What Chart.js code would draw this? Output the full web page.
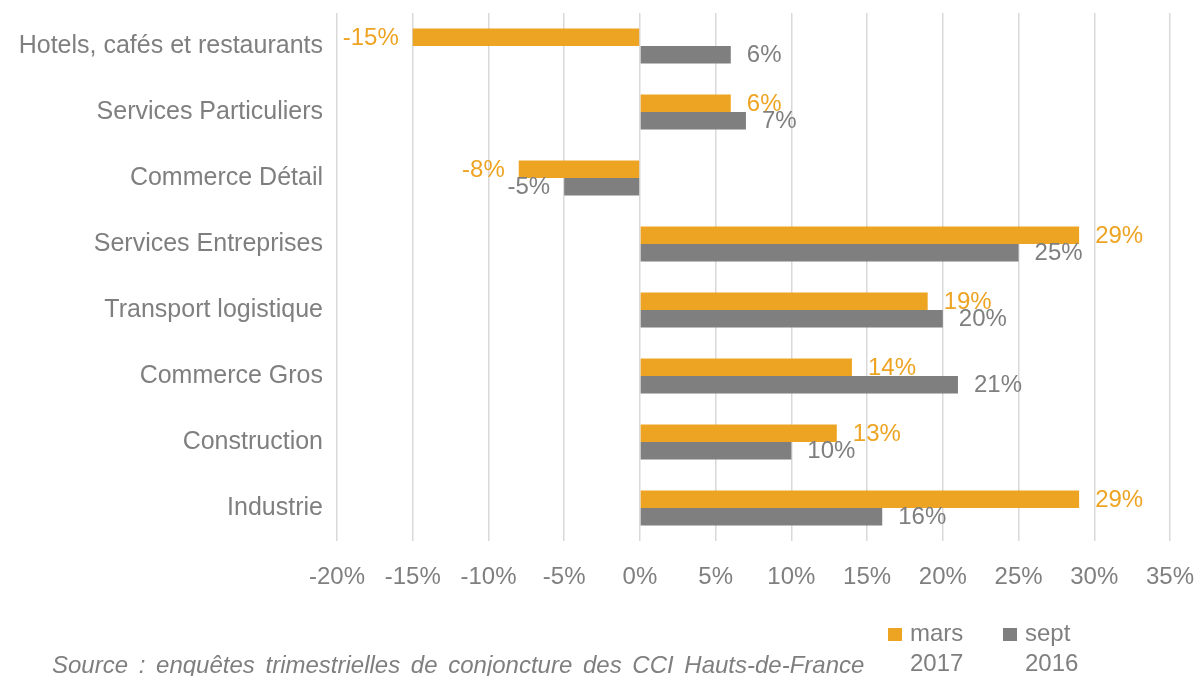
<!DOCTYPE html>
<html lang="fr">
<head>
<meta charset="UTF-8">
<title>Solde d'opinion par secteur</title>
<script src="https://cdn.jsdelivr.net/npm/chart.js@4.4.1/dist/chart.umd.min.js"></script>
<style>
  html, body { margin: 0; padding: 0; background: #fff; }
  #wrap { position: relative; width: 1198px; height: 676px; overflow: hidden; font-family: "Liberation Sans", Arial, sans-serif; color: #7f7f7f; }
  #myChart { position: absolute; left: 0; top: 0; }
  .src { position: absolute; left: 52px; top: 651px; font-size: 24px; font-style: italic; word-spacing: 4px; white-space: nowrap; }
  .leg { position: absolute; top: 618px; font-size: 24px; line-height: 30px; }
  .leg span.box { position: absolute; left: 0; top: 10px; width: 14px; height: 13px; }
  .leg div { margin-left: 22px; }
</style>
</head>
<body>
<div id="wrap">
  <canvas id="myChart" width="1198" height="676"></canvas>
  <div class="src">Source : enquêtes trimestrielles de conjoncture des CCI Hauts-de-France</div>
  <div class="leg" style="left:888px"><span class="box" style="background:#EEA423"></span><div>mars<br>2017</div></div>
  <div class="leg" style="left:1003px"><span class="box" style="background:#7f7f7f"></span><div>sept<br>2016</div></div>
</div>
<script>
  const categories = ['Hotels, cafés et restaurants', 'Services Particuliers', 'Commerce Détail',
    'Services Entreprises', 'Transport logistique', 'Commerce Gros', 'Construction', 'Industrie'];
  const mars2017 = [-15, 6, -8, 29, 19, 14, 13, 29];
  const sept2016 = [6, 7, -5, 25, 20, 21, 10, 16];
  const xTicks = { min: -20, max: 35, step: 5 };

  const orange = '#EEA423';
  const grey = '#7f7f7f';

  // labels at the end of each bar
  const barLabels = {
    id: 'barLabels',
    afterDatasetsDraw(chart) {
      const ctx = chart.ctx;
      ctx.save();
      ctx.font = '24px "Liberation Sans", Arial, sans-serif';
      ctx.textBaseline = 'middle';
      chart.data.datasets.forEach((ds, i) => {
        const meta = chart.getDatasetMeta(i);
        meta.data.forEach((bar, j) => {
          const v = ds.data[j];
          ctx.fillStyle = ds.backgroundColor;
          if (v >= 0) {
            ctx.textAlign = 'left';
            ctx.fillText(v + '%', bar.x + 16, bar.y + 1);
          } else {
            ctx.textAlign = 'right';
            ctx.fillText(v + '%', bar.x - 14, bar.y + 1);
          }
        });
      });
      ctx.restore();
    }
  };

  const ctx = document.getElementById('myChart').getContext('2d');
  const myChart = new Chart(ctx, {
    type: 'bar',
    data: {
      labels: categories,
      datasets: [
        { label: 'mars 2017', data: mars2017, backgroundColor: orange },
        { label: 'sept 2016', data: sept2016, backgroundColor: grey }
      ]
    },
    options: {
      indexAxis: 'y',
      responsive: false,
      animation: false,
      categoryPercentage: 0.53,
      barPercentage: 1,
      layout: { padding: 0 },
      plugins: { legend: { display: false }, tooltip: { enabled: false } },
      scales: {
        x: {
          min: xTicks.min,
          max: xTicks.max,
          grid: { color: '#d9d9d9', lineWidth: 1.5, drawTicks: false },
          border: { display: false },
          ticks: {
            stepSize: xTicks.step,
            padding: 22,
            color: grey,
            font: { family: '"Liberation Sans", Arial, sans-serif', size: 24 },
            callback: v => v + '%'
          },
          afterFit: s => { s.height = 676 - 541; s.paddingLeft = 0; s.paddingRight = 28; }
        },
        y: {
          grid: { display: false, drawTicks: false },
          border: { display: false },
          ticks: {
            padding: 14,
            color: grey,
            font: { family: '"Liberation Sans", Arial, sans-serif', size: 25 }
          },
          afterFit: s => { s.width = 337; s.paddingTop = 13; s.paddingBottom = 0; }
        }
      }
    },
    plugins: [barLabels]
  });
</script>
</body>
</html>
